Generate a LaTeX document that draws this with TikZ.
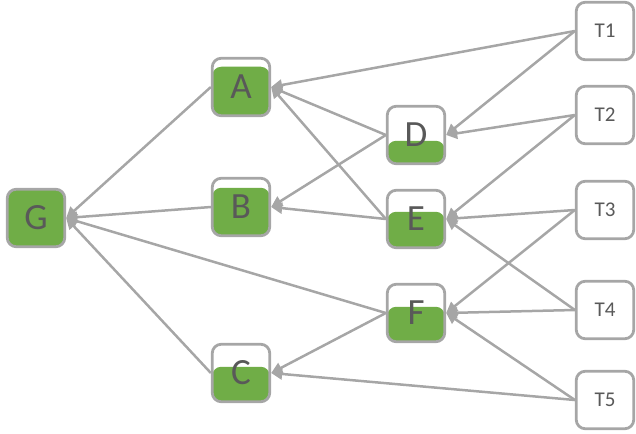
\documentclass[tikz,border=0pt]{standalone}
\usepackage{fontspec}
\setmainfont{Carlito}
\usetikzlibrary{arrows.meta}
\definecolor{lgreen}{HTML}{70AD47}
\definecolor{bgray}{HTML}{A6A6A6}
\definecolor{tgray}{HTML}{595959}
\begin{document}
\begin{tikzpicture}[x=1pt,y=-1pt,
 box/.style={draw=bgray, line width=2.8pt, rounded corners=9pt, minimum width=57.5pt, minimum height=57.5pt, inner sep=0pt, text=tgray, fill=white},
 big/.style={box, font=\fontsize{37}{37}\selectfont},
 tbox/.style={box, font=\fontsize{21}{21}\selectfont},
 level/.style={path picture={\fill[lgreen] (path picture bounding box.south west) rectangle ([yshift=#1pt]path picture bounding box.south east);}},
 conn/.style={draw=bgray, line width=2.5pt, -{Triangle[length=11pt,width=11pt]}}
]
\useasboundingbox (0,0) rectangle (636,433);
\node[big, fill=lgreen] (G) at (36,218) {G};
\node[big, level=49] (A) at (241,87) {A};
\node[big, level=48] (B) at (241,207) {B};
\node[big, level=35] (C) at (241,373) {C};
\node[big, level=23] (D) at (416,135) {D};
\node[big, level=36] (E) at (416,219) {E};
\node[big, level=35] (F) at (416,313) {F};
\node[tbox] (T1) at (605,31) {T1};
\node[tbox] (T2) at (605,115) {T2};
\node[tbox] (T3) at (605,210) {T3};
\node[tbox] (T4) at (605,310) {T4};
\node[tbox] (T5) at (605,400) {T5};
\draw[conn] (T1.west) -- (A.east);
\draw[conn] (T1.west) -- (D.east);
\draw[conn] (T2.west) -- (D.east);
\draw[conn] (T2.west) -- (E.east);
\draw[conn] (T3.west) -- (E.east);
\draw[conn] (T3.west) -- (F.east);
\draw[conn] (T4.west) -- (E.east);
\draw[conn] (T4.west) -- (F.east);
\draw[conn] (T5.west) -- (F.east);
\draw[conn] (T5.west) -- (C.east);
\draw[conn] (D.west) -- (A.east);
\draw[conn] (D.west) -- (B.east);
\draw[conn] (E.west) -- (A.east);
\draw[conn] (E.west) -- (B.east);
\draw[conn] (F.west) -- (C.east);
\draw[conn] (F.west) -- (G.east);
\draw[conn] (A.west) -- (G.east);
\draw[conn] (B.west) -- (G.east);
\draw[conn] (C.west) -- (G.east);
\end{tikzpicture}
\end{document}
